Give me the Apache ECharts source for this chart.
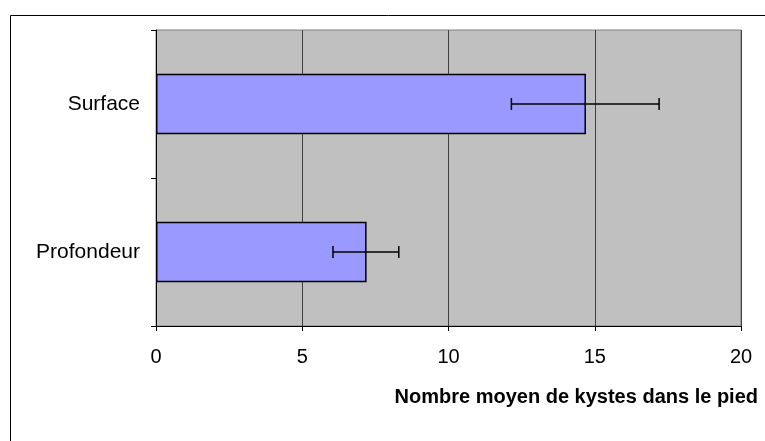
<!DOCTYPE html>
<html><head><meta charset="utf-8">
<script src="https://cdn.jsdelivr.net/npm/echarts@6/dist/echarts.min.js"></script>
<style>html,body{margin:0;padding:0;background:#fff}#c{width:765px;height:441px}</style>
</head><body><div id="c"></div>
<script>
const categories = ['Profondeur', 'Surface'];
const values = [7.2, 14.7];
const errLow = [6.05, 12.15];
const errHigh = [8.3, 17.2];
const xTicks = [0, 5, 10, 15, 20];

const chart = echarts.init(document.getElementById('c'), null, {renderer: 'canvas'});
const font = 'Arial, "Liberation Sans", sans-serif';
chart.setOption({
  animation: false,
  grid: {left: 156, right: 24, top: 30, bottom: 115, show: true, backgroundColor: '#C0C0C0', borderColor: '#808080', borderWidth: 1},
  xAxis: {
    type: 'value', min: xTicks[0], max: xTicks[xTicks.length - 1], interval: 5,
    axisLine: {show: true, lineStyle: {color: '#000', width: 1}},
    axisTick: {show: true, length: 5, lineStyle: {color: '#000'}},
    axisLabel: {color: '#000', fontFamily: font, fontSize: 20, margin: 21},
    splitLine: {show: true, lineStyle: {color: '#404040', width: 1}}
  },
  yAxis: {
    type: 'category', data: categories,
    axisLine: {show: true, lineStyle: {color: '#000', width: 1}},
    axisTick: {show: true, length: 5, lineStyle: {color: '#000'}},
    axisLabel: {color: '#000', fontFamily: font, fontSize: 21, margin: 16},
    splitLine: {show: false}
  },
  series: [
    {
      type: 'bar', data: values, barWidth: '41%',
      itemStyle: {color: '#9999FF', borderColor: '#000', borderWidth: 1.5}
    },
    {
      type: 'custom',
      data: categories.map((c, i) => [i, errLow[i], errHigh[i]]),
      renderItem: function (params, api) {
        const i = api.value(0);
        const lo = api.coord([api.value(1), i]);
        const hi = api.coord([api.value(2), i]);
        const h = 6;
        const st = {stroke: '#000', lineWidth: 1.5};
        return {type: 'group', children: [
          {type: 'line', shape: {x1: lo[0], y1: lo[1], x2: hi[0], y2: hi[1]}, style: st},
          {type: 'line', shape: {x1: lo[0], y1: lo[1] - h, x2: lo[0], y2: lo[1] + h}, style: st},
          {type: 'line', shape: {x1: hi[0], y1: hi[1] - h, x2: hi[0], y2: hi[1] + h}, style: st}
        ]};
      },
      encode: {x: [1, 2], y: 0},
      z: 5
    }
  ],
  graphic: [
    {type: 'rect', shape: {x: 10.5, y: 15.5, width: 800, height: 500}, style: {fill: 'none', stroke: '#000', lineWidth: 1}, z: -1},
    {type: 'text', right: 7, top: 387, style: {text: 'Nombre moyen de kystes dans le pied', font: 'bold 20px ' + font, fill: '#000'}}
  ]
});
</script></body></html>
